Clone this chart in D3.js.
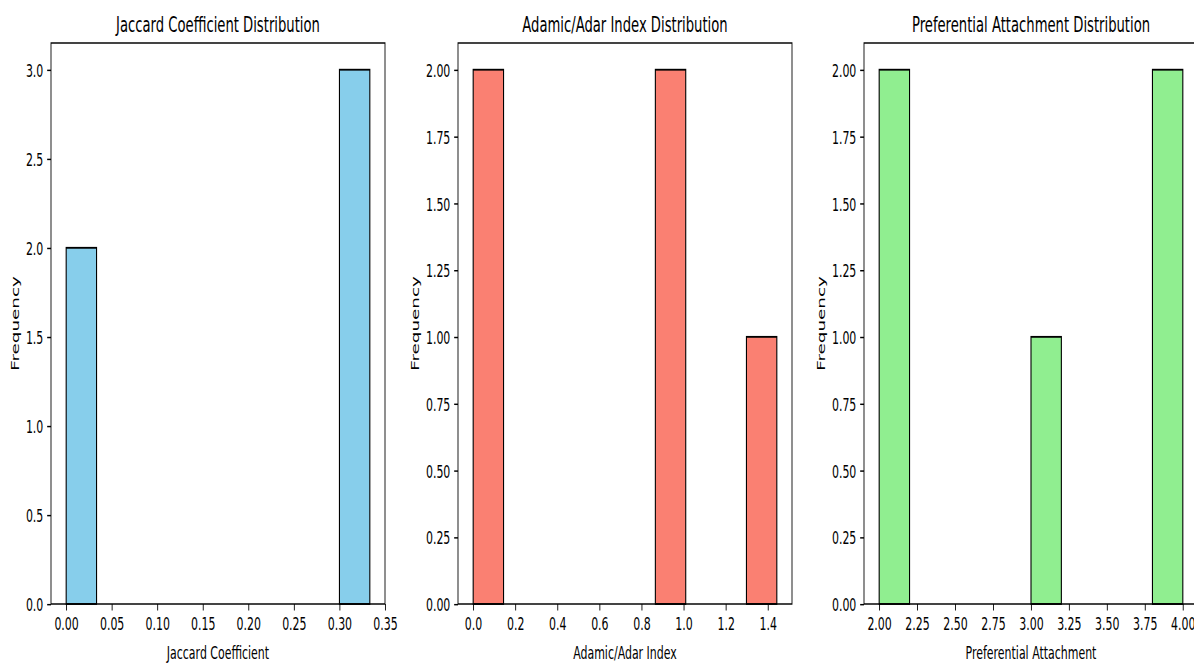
<!DOCTYPE html>
<html>
<head>
<meta charset="utf-8">
<script src="https://cdn.jsdelivr.net/npm/d3@7"></script>
<style>
html,body{margin:0;padding:0;background:#fff;overflow:hidden;}
svg{display:block;}
text{font-family:"DejaVu Sans",sans-serif;fill:#000;}
</style>
</head>
<body>
<svg id="chart"></svg>
<script>
// ---------- data ----------
const titles = ["Jaccard Coefficient Distribution", "Adamic/Adar Index Distribution", "Preferential Attachment Distribution"];
const xLabels = ["Jaccard Coefficient", "Adamic/Adar Index", "Preferential Attachment"];
const yLabel = "Frequency";
const colors = ["#87CEEB", "#FA8072", "#90EE90"];

// histogram counts (10 bins each) and the data range covered by the bins
const jaccardCounts = [2, 0, 0, 0, 0, 0, 0, 0, 0, 3];
const jaccardRange = [0, 0.3333];
const adamicCounts = [2, 0, 0, 0, 0, 0, 2, 0, 0, 1];
const adamicRange = [0, 1.4427];
const prefCounts = [2, 0, 0, 0, 0, 1, 0, 0, 0, 2];
const prefRange = [2, 4];

// tick values / labels
const jaccardXTicks = [0, 0.05, 0.10, 0.15, 0.20, 0.25, 0.30, 0.35];
const jaccardXTickLabels = ["0.00", "0.05", "0.10", "0.15", "0.20", "0.25", "0.30", "0.35"];
const adamicXTicks = [0, 0.2, 0.4, 0.6, 0.8, 1.0, 1.2, 1.4];
const adamicXTickLabels = ["0.0", "0.2", "0.4", "0.6", "0.8", "1.0", "1.2", "1.4"];
const prefXTicks = [2.00, 2.25, 2.50, 2.75, 3.00, 3.25, 3.50, 3.75, 4.00];
const prefXTickLabels = ["2.00", "2.25", "2.50", "2.75", "3.00", "3.25", "3.50", "3.75", "4.00"];
const jaccardYTicks = [0, 0.5, 1.0, 1.5, 2.0, 2.5, 3.0];
const jaccardYTickLabels = ["0.0", "0.5", "1.0", "1.5", "2.0", "2.5", "3.0"];
const countYTicks = [0, 0.25, 0.5, 0.75, 1.0, 1.25, 1.5, 1.75, 2.0];
const countYTickLabels = ["0.00", "0.25", "0.50", "0.75", "1.00", "1.25", "1.50", "1.75", "2.00"];

// ---------- layout ----------
const OUT_W = 1194, OUT_H = 663;
const SX = 0.79, SY = 1.32;           // non-uniform scaling of the reference picture
const W = OUT_W / SX, H = OUT_H / SY;  // logical coordinate space
const lx = p => p / SX, ly = p => p / SY;

const panelLefts = [51, 458, 864].map(lx);
const panelW = lx(334);
const axTop = ly(43), axBottom = ly(604);

const FS = 13.89, FT = 16.67;
const TICK = 4.86, PAD = 4.86;

const svg = d3.select("#chart")
  .attr("width", OUT_W).attr("height", OUT_H)
  .attr("viewBox", `0 0 ${W} ${H}`)
  .attr("preserveAspectRatio", "none");

const panels = [
  {counts: jaccardCounts, range: jaccardRange, xt: jaccardXTicks, xtl: jaccardXTickLabels, yt: jaccardYTicks, ytl: jaccardYTickLabels},
  {counts: adamicCounts, range: adamicRange, xt: adamicXTicks, xtl: adamicXTickLabels, yt: countYTicks, ytl: countYTickLabels},
  {counts: prefCounts, range: prefRange, xt: prefXTicks, xtl: prefXTickLabels, yt: countYTicks, ytl: countYTickLabels}
];

panels.forEach((p, i) => {
  const left = panelLefts[i], right = left + panelW;
  const [mn, mx] = p.range;
  const span = mx - mn;
  const x = d3.scaleLinear().domain([mn - 0.05 * span, mx + 0.05 * span]).range([left, right]);
  const yMax = d3.max(p.counts) * 1.05;
  const y = d3.scaleLinear().domain([0, yMax]).range([axBottom, axTop]);
  const nb = p.counts.length;
  const bins = p.counts.map((c, k) => ({x0: mn + span * k / nb, x1: mn + span * (k + 1) / nb, c}));

  const g = svg.append("g");

  g.selectAll("rect.bar").data(bins).enter().append("rect")
    .attr("class", "bar")
    .attr("x", d => x(d.x0))
    .attr("width", d => x(d.x1) - x(d.x0))
    .attr("y", d => y(d.c))
    .attr("height", d => y(0) - y(d.c))
    .attr("fill", colors[i])
    .attr("stroke", "#000")
    .attr("stroke-width", 1.39);

  // frame (spines)
  g.append("rect")
    .attr("x", left).attr("y", axTop)
    .attr("width", panelW).attr("height", axBottom - axTop)
    .attr("fill", "none").attr("stroke", "#000").attr("stroke-width", 1.11);

  // x axis
  const xa = g.append("g").attr("transform", `translate(0,${axBottom})`)
    .call(d3.axisBottom(x).tickValues(p.xt).tickFormat((d, k) => p.xtl[k])
      .tickSize(TICK).tickSizeOuter(0).tickPadding(PAD));
  xa.select(".domain").remove();
  xa.selectAll("line").attr("stroke", "#000").attr("stroke-width", 1.11);
  xa.selectAll("text").attr("font-size", FS).attr("font-family", "DejaVu Sans").attr("fill", "#000");

  // y axis
  const ya = g.append("g").attr("transform", `translate(${left},0)`)
    .call(d3.axisLeft(y).tickValues(p.yt).tickFormat((d, k) => p.ytl[k])
      .tickSize(TICK).tickSizeOuter(0).tickPadding(PAD));
  ya.select(".domain").remove();
  ya.selectAll("line").attr("stroke", "#000").attr("stroke-width", 1.11);
  ya.selectAll("text").attr("font-size", FS).attr("font-family", "DejaVu Sans").attr("fill", "#000").attr("dy", "0.36em");

  // title
  g.append("text")
    .attr("x", (left + right) / 2).attr("y", axTop - 8.33)
    .attr("text-anchor", "middle").attr("font-size", FT)
    .text(titles[i]);

  // x label
  g.append("text")
    .attr("x", (left + right) / 2).attr("y", axBottom + TICK + PAD + 13.7 + 5.56 + 12.6)
    .attr("text-anchor", "middle").attr("font-size", FS)
    .text(xLabels[i]);

  // y label
  const tw = d3.max(ya.selectAll("text").nodes(), n => n.getComputedTextLength());
  const yx = left - TICK - PAD - tw - 5.56 - 3.1;
  g.append("text")
    .attr("transform", `translate(${yx},${(axTop + axBottom) / 2}) rotate(-90)`)
    .attr("text-anchor", "middle").attr("font-size", FS)
    .text(yLabel);
});
</script>
</body>
</html>
